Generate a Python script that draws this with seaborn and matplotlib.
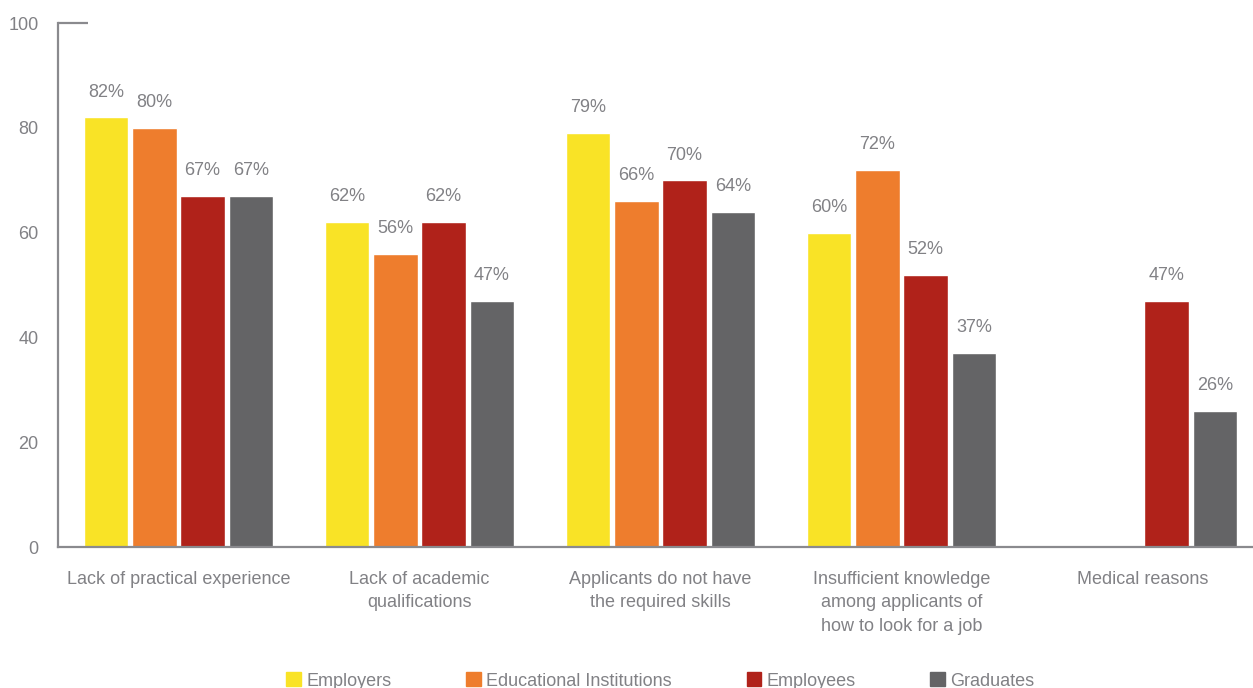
import numpy as np
import pandas as pd
import matplotlib
matplotlib.use("Agg")
import matplotlib.pyplot as plt
import matplotlib.transforms as mtransforms
import seaborn as sns

categories = [
    "Lack of practical experience",
    "Lack of academic\nqualifications",
    "Applicants do not have\nthe required skills",
    "Insufficient knowledge\namong applicants of\nhow to look for a job",
    "Medical reasons",
]
groups = ["Employers", "Educational Institutions", "Employees", "Graduates"]
employers = [82, 62, 79, 60, np.nan]
educational = [80, 56, 66, 72, np.nan]
employees = [67, 62, 70, 52, 47]
graduates = [67, 47, 64, 37, 26]
y_ticks = [0, 20, 40, 60, 80, 100]

colors = ["#F9E326", "#EE7D2D", "#B0221A", "#646466"]
axis_grey = "#8A8A8E"
text_grey = "#818185"

rows = []
for g, vals in zip(groups, [employers, educational, employees, graduates]):
    for c, v in zip(categories, vals):
        rows.append({"category": c, "group": g, "value": v})
df = pd.DataFrame(rows)

sns.set_style("white")
plt.rcParams["font.family"] = ["Liberation Sans", "DejaVu Sans"]

fig = plt.figure(figsize=(12.53, 6.88), dpi=100)
ax = fig.add_axes([58 / 1253, 1 - 547 / 688, 1205 / 1253, 524 / 688])

sns.barplot(data=df, x="category", y="value", hue="group", order=categories,
            hue_order=groups, palette=colors, width=0.8, gap=0.08,
            saturation=1, ax=ax, legend=False)

ax.set_xlim(-0.5, len(categories) - 0.5)
ax.set_ylim(0, 100)
ax.set_xlabel("")
ax.set_ylabel("")
ax.set_yticks(y_ticks)
ax.set_yticklabels([str(t) for t in y_ticks])

for s in ["top", "right"]:
    ax.spines[s].set_visible(False)
for s in ["left", "bottom"]:
    ax.spines[s].set_color(axis_grey)
    ax.spines[s].set_linewidth(1.6)

ax.tick_params(axis="y", length=0, pad=14, labelsize=13, labelcolor=text_grey)
ax.tick_params(axis="x", which="major", length=0, pad=17, labelsize=13,
               labelcolor=text_grey)
ax.set_xticks(np.arange(len(categories) - 1) + 0.5, minor=True)
ax.tick_params(axis="x", which="minor", direction="in", length=8.5,
               width=1.6, color=axis_grey)
for lab in ax.get_xticklabels():
    lab.set_linespacing(1.5)

# short cap at the top of the value axis
trans = mtransforms.blended_transform_factory(ax.transAxes, ax.transData)
ax.plot([0, 30 / 1205], [100, 100], color=axis_grey, lw=1.6,
        transform=trans, clip_on=False, solid_capstyle="butt")

for container in ax.containers:
    labels = ["" if np.isnan(v) else f"{v:.0f}%" for v in container.datavalues]
    ax.bar_label(container, labels=labels, padding=12, fontsize=13,
                 color=text_grey)

handles = [plt.Rectangle((0, 0), 1, 1, color=c) for c in colors]
fig.legend(handles, groups, loc="center", bbox_to_anchor=(0.527, 1 - 681 / 688),
           ncol=4, frameon=False, fontsize=13, labelcolor=text_grey,
           handlelength=0.8, handleheight=0.8, handletextpad=0.3,
           columnspacing=4.15, borderpad=0)

fig.savefig("out.png", dpi=100)
